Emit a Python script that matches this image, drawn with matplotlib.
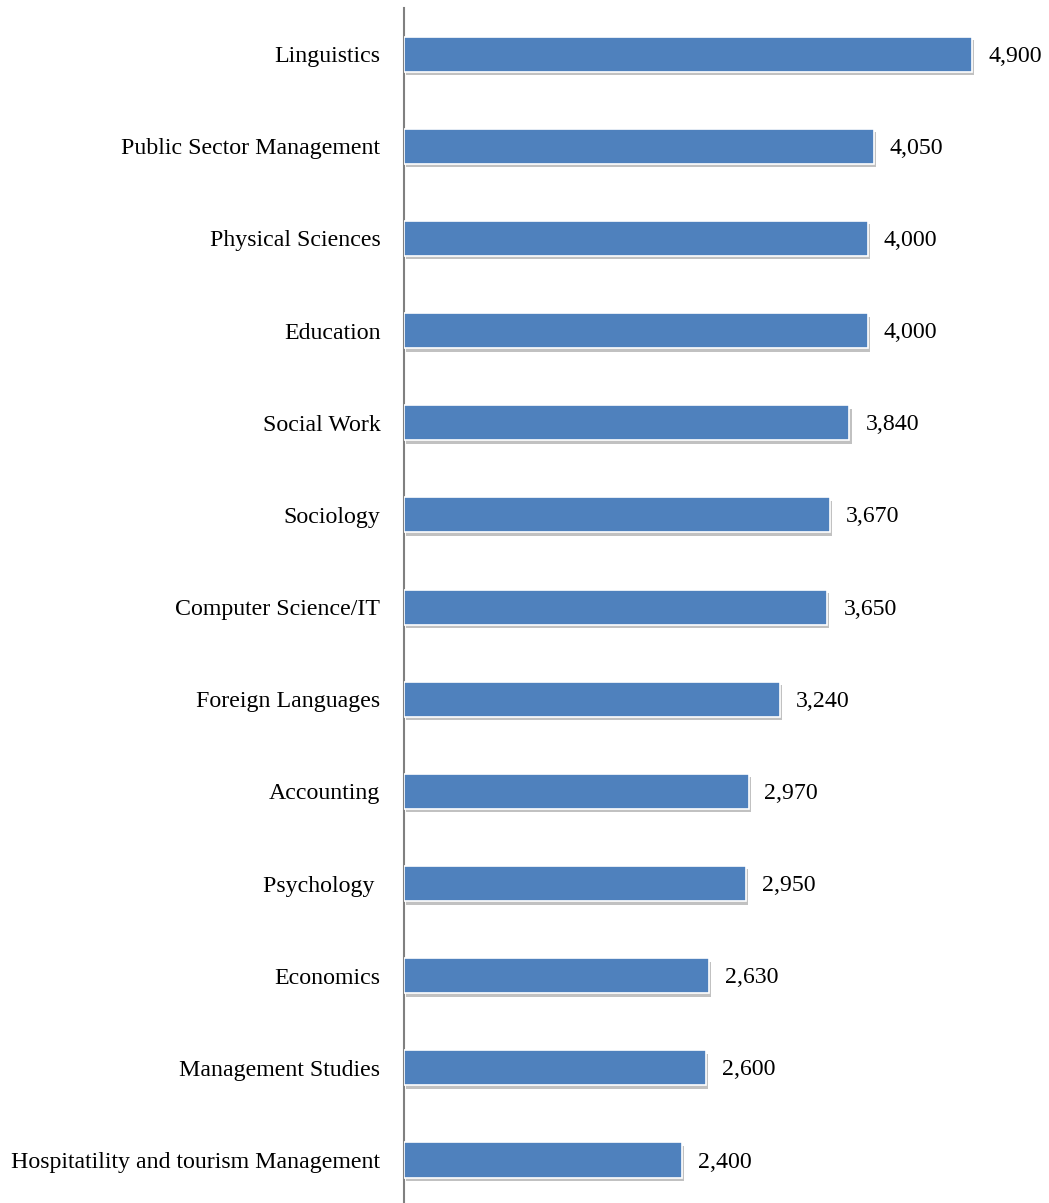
import matplotlib
matplotlib.use("Agg")
import matplotlib.pyplot as plt
import matplotlib.patheffects as pe

categories = ["Linguistics", "Public Sector Management", "Physical Sciences", "Education",
              "Social Work", "Sociology", "Computer Science/IT", "Foreign Languages",
              "Accounting", "Psychology ", "Economics", "Management Studies",
              "Hospitatility and tourism Management"]
values = [4900, 4050, 4000, 4000, 3840, 3670, 3650, 3240, 2970, 2950, 2630, 2600, 2400]

W, H = 1049, 1203
fig = plt.figure(figsize=(W / 100, H / 100), dpi=100)
left = 404 / W
top = 8 / H
ax = fig.add_axes([left, 0, 1 - left, 1 - top])

font = dict(family=["Liberation Serif", "DejaVu Serif"], size=17.2)
ypos = list(range(len(categories)))
bars = ax.barh(ypos, values, height=0.38, color="#4F81BD", edgecolor="white", linewidth=1.2,
               zorder=3)
for b in bars:
    b.set_path_effects([pe.SimplePatchShadow(offset=(1.5, -2.5), shadow_rgbFace="#999999", alpha=0.6),
                        pe.Normal()])

ax.set_xlim(0, (W - 404) / 0.116)
ax.set_ylim(12 + 43 / 92.17, -0.5)
ax.set_yticks(ypos)
ax.set_yticklabels(categories, **font)
ax.tick_params(axis="y", length=0, pad=17)
ax.set_xticks([])
for s in ["top", "right", "bottom"]:
    ax.spines[s].set_visible(False)
ax.spines["left"].set_color("#808080")
ax.spines["left"].set_linewidth(1.5)

for y, v in zip(ypos, values):
    ax.annotate(f"{v:,}", xy=(v, y), xytext=(11.5, -1.5), textcoords="offset points",
                va="center", ha="left", **font)

fig.savefig("out.png", dpi=100)
